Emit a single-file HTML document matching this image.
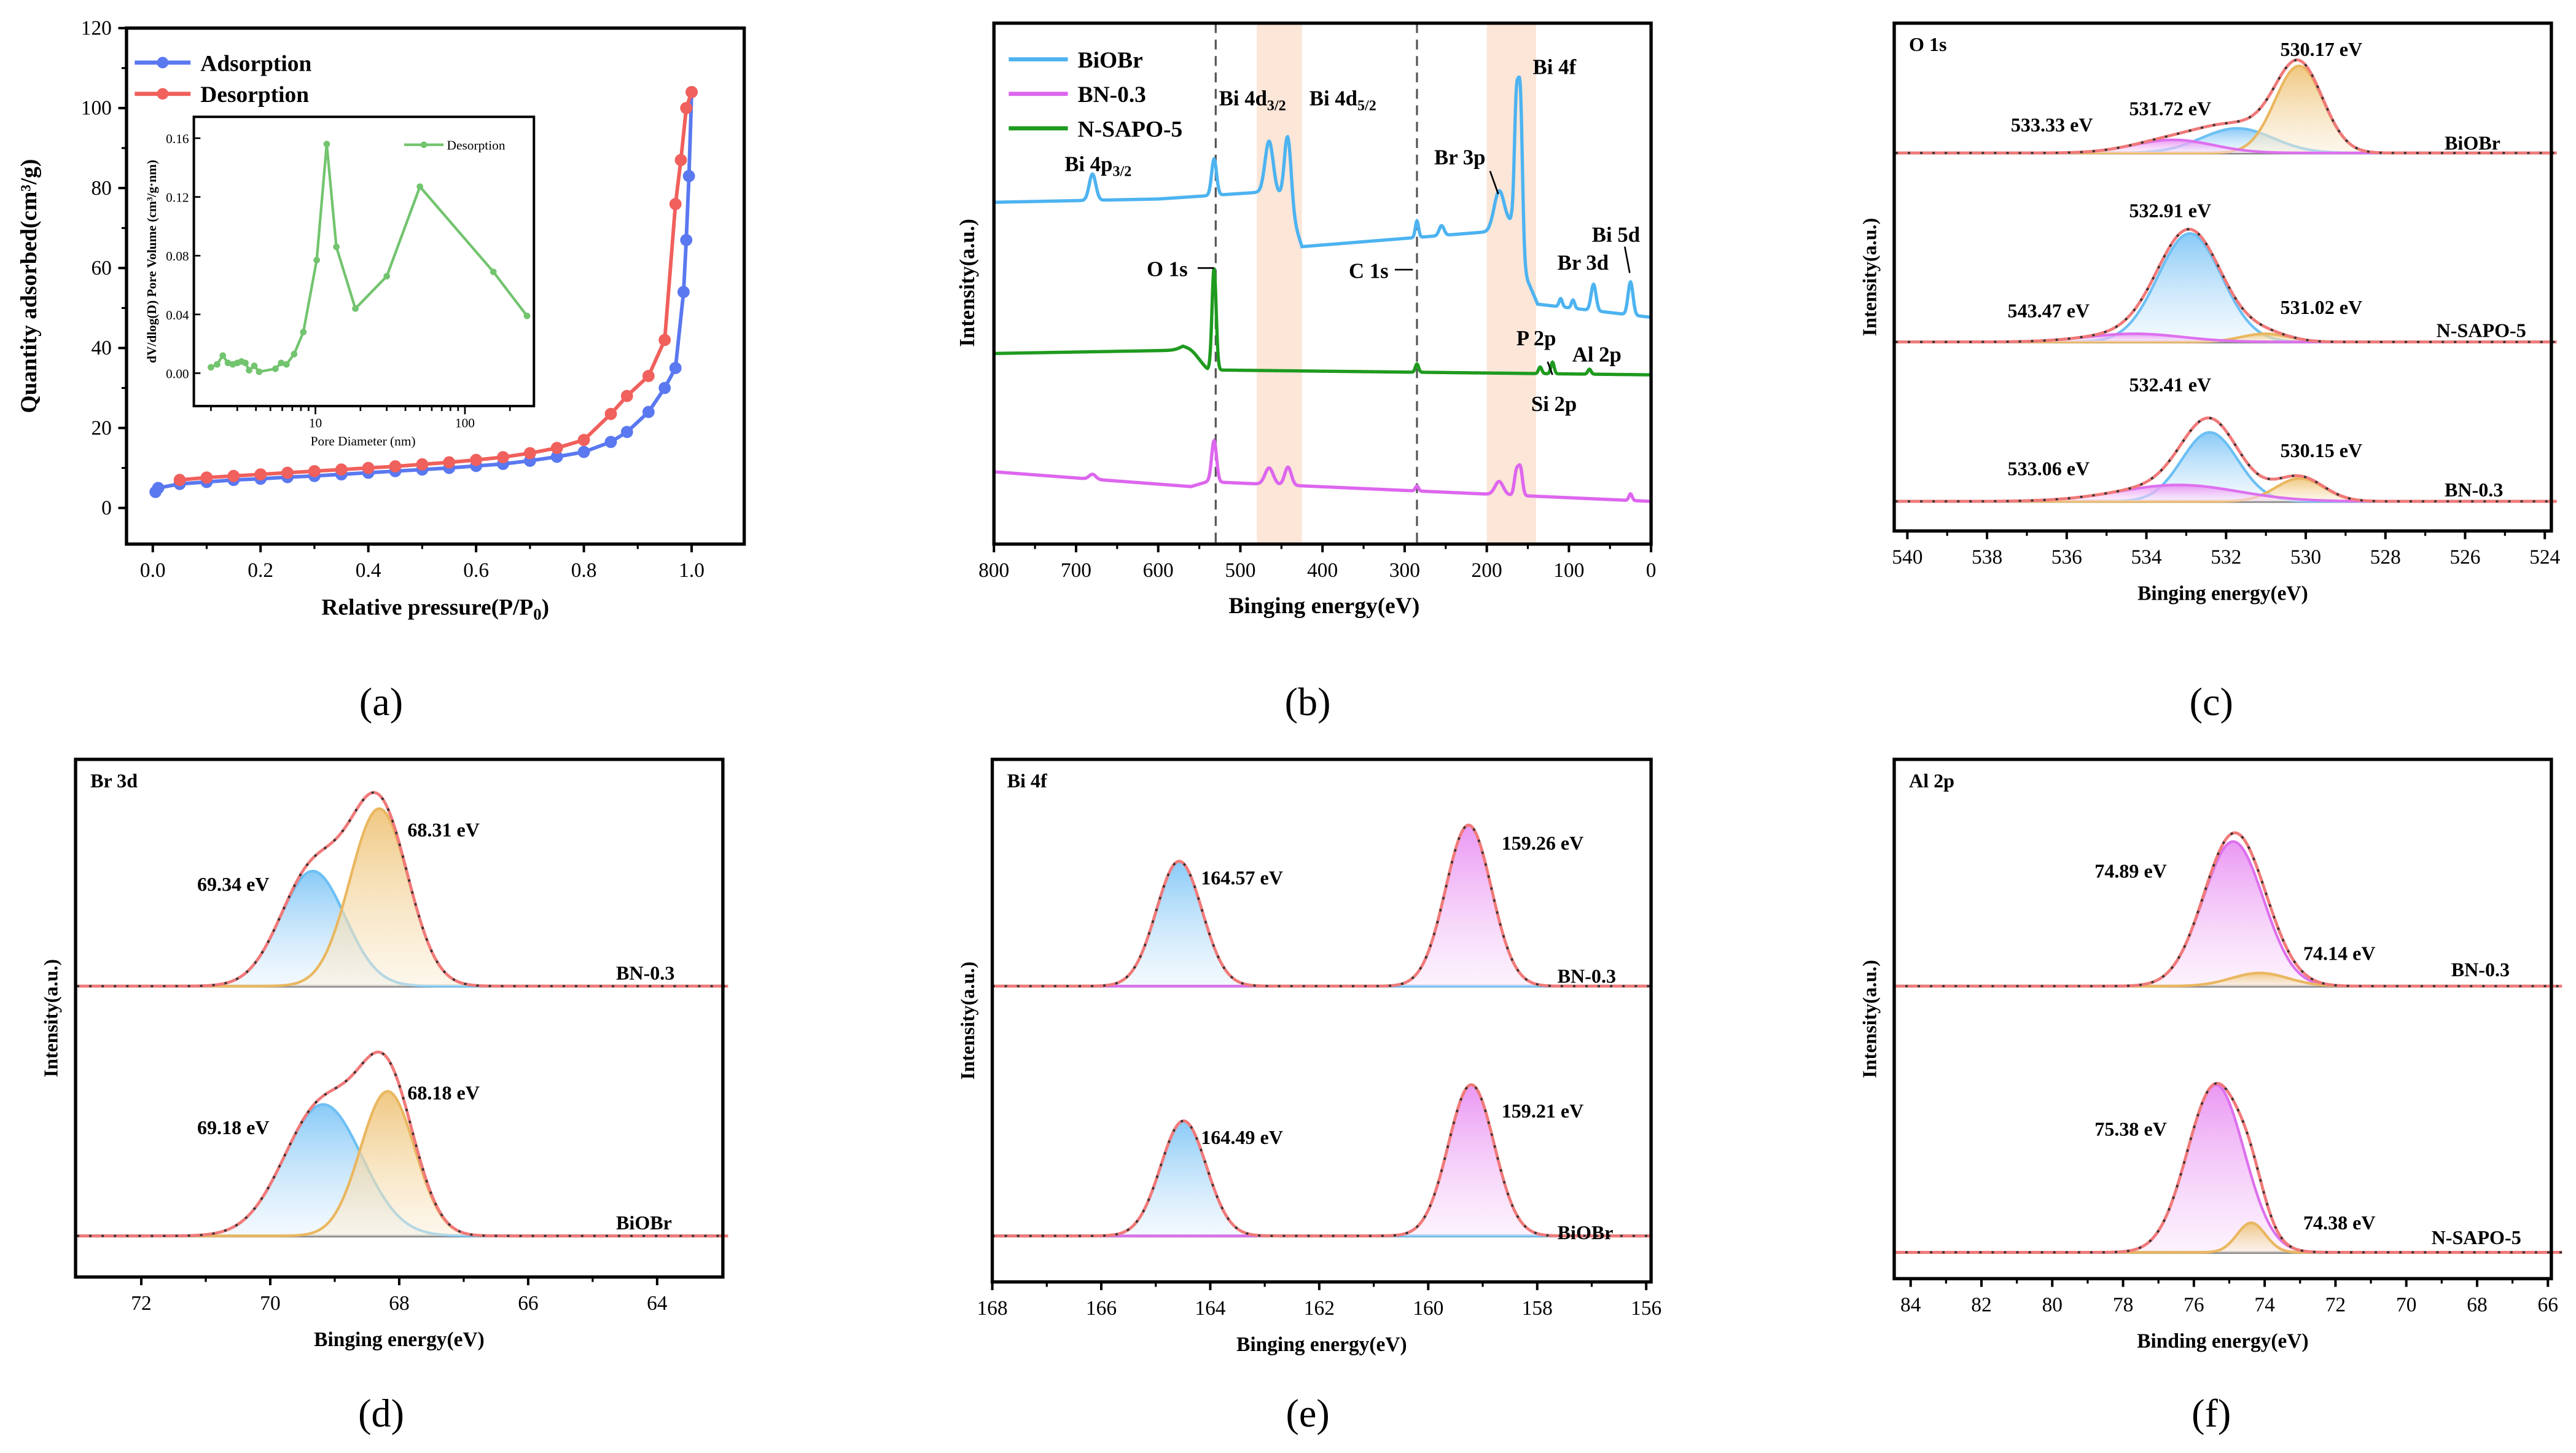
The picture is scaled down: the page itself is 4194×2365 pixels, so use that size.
<!DOCTYPE html>
<html><head><meta charset="utf-8"><style>
html,body{margin:0;padding:0;background:#fff;}
svg{display:block;}
text{font-family:"Liberation Serif",serif;}
</style></head><body>
<svg id="fig" xmlns="http://www.w3.org/2000/svg" width="4194" height="2365" viewBox="0 0 1568 884">
<defs>
<linearGradient id="gBlue" x1="0" y1="0" x2="0" y2="1"><stop offset="0" stop-color="#7cc4f6" stop-opacity="0.9"/><stop offset="1" stop-color="#e8f4fd" stop-opacity="0.5"/></linearGradient>
<linearGradient id="gOr" x1="0" y1="0" x2="0" y2="1"><stop offset="0" stop-color="#eec274" stop-opacity="0.9"/><stop offset="1" stop-color="#fbefd8" stop-opacity="0.5"/></linearGradient>
<linearGradient id="gMag" x1="0" y1="0" x2="0" y2="1"><stop offset="0" stop-color="#e88cf2" stop-opacity="0.9"/><stop offset="1" stop-color="#fae6fc" stop-opacity="0.5"/></linearGradient>
</defs>
</svg>
<script>
// ---------- Panel (a) data ----------
const adsP=[0.005,0.01,0.05,0.1,0.15,0.2,0.25,0.3,0.35,0.4,0.45,0.5,0.55,0.6,0.65,0.7,0.75,0.8,0.85,0.88,0.92,0.95,0.97,0.985,0.99,0.995,1.0];
const adsV=[4,5,6,6.5,7,7.3,7.7,8,8.4,8.8,9.2,9.6,10,10.5,11,11.8,12.8,14,16.5,19,24,30,35,54,67,83,104];
const desP=[0.05,0.1,0.15,0.2,0.25,0.3,0.35,0.4,0.45,0.5,0.55,0.6,0.65,0.7,0.75,0.8,0.85,0.88,0.92,0.95,0.97,0.98,0.99,1.0];
const desV=[7,7.6,8,8.4,8.8,9.2,9.6,10,10.4,10.9,11.4,12,12.7,13.7,15,17,23.5,28,33,42,76,87,100,104];
const poreD=[2.0,2.2,2.4,2.6,2.8,3.0,3.2,3.4,3.6,3.9,4.2,5.4,5.9,6.4,7.2,8.3,10.2,11.9,13.8,18.5,30,50,155,260];
const poreV=[0.004,0.006,0.012,0.007,0.006,0.007,0.008,0.007,0.002,0.005,0.001,0.003,0.007,0.006,0.013,0.028,0.077,0.156,0.086,0.044,0.066,0.127,0.069,0.039];
const aXTicks=[0,0.2,0.4,0.6,0.8,1.0];
const aYTicks=[0,20,40,60,80,100,120];
const inYTicks=[0,0.04,0.08,0.12,0.16];
// ---------- Panel (b) survey data: baseline knots [eV,I] and peaks [center,height,sigma] ----------
const bBiOBrBase=[[800,208],[600,210],[480,214],[445,212],[425,181],[300,186],[200,190],[170,196],[150,160],[138,146],[0,138]];
const bBiOBrPeaks=[[680,16,4],[532,22,3],[465,32,5],[442,40,4],[285,10,2],[255,6,3],[185,22,6],[164,80,2.5],[159,90,2.5],[110,5,2],[95,5,2],[70,16,3],[25,20,3]];
const bNSAPOBase=[[800,116],[570,118],[540,106],[0,103]];
const bNSAPOPeaks=[[560,4,10],[532,62,2.5],[285,5,2],[135,4,2],[120,7,2],[75,3,2]];
const bBNBase=[[800,44],[560,35],[540,38],[0,26]];
const bBNPeaks=[[680,3,4],[532,25,3],[465,10,5],[442,11,4],[285,3,2],[185,8,5],[164,14,2.5],[159,16,2.5],[25,4,2]];
const bXTicks=[800,700,600,500,400,300,200,100,0];
// ---------- Panels (c)-(f): component peaks [center, height, sigma] ----------
const cBiOBr={blue:[531.72,15,0.9],orange:[530.17,53,0.6],mag:[533.33,8,1.0]};
const cNSAPO={blue:[532.91,66,0.8],orange:[531.02,5,0.6],mag:[534.3,5,1.2]};
const cBN={blue:[532.41,42,0.7],orange:[530.15,14,0.6],mag:[533.2,10,1.5]};
const cXTicks=[540,538,536,534,532,530,528,526,524];
const dBN={blue:[69.34,70,0.5],orange:[68.31,108,0.45]};
const dBiOBr={blue:[69.18,80,0.6],orange:[68.18,88,0.42]};
const dXTicks=[72,70,68,66,64];
const eBN={blue:[164.57,76,0.42],mag:[159.26,98,0.42]};
const eBiOBr={blue:[164.49,70,0.42],mag:[159.21,92,0.42]};
const eXTicks=[168,166,164,162,160,158,156];
const fBN={mag:[74.89,88,0.85],orange:[74.14,8,0.8]};
const fNSAPO={mag:[75.38,102,0.8],orange:[74.38,18,0.4]};
const fXTicks=[84,82,80,78,76,74,72,70,68,66];

const NS='http://www.w3.org/2000/svg';
const svg=document.getElementById('fig');
function mk(tag,attrs,parent,txt){const e=document.createElementNS(NS,tag);for(const k in attrs)e.setAttribute(k,attrs[k]);if(txt!==undefined)e.textContent=txt;(parent||svg).appendChild(e);return e;}
function txt(x,y,s,size,parent,anchor,bold){return mk('text',{x:x,y:y,'font-size':size,'font-weight':bold===false?'normal':'bold','text-anchor':anchor||'start'},parent,s);}
function gauss(x,p){return p[1]*Math.exp(-0.5*Math.pow((x-p[0])/p[2],2));}
function pathD(pts){return pts.map((p,i)=>(i?'L':'M')+p[0].toFixed(2)+' '+p[1].toFixed(2)).join('');}
function interpBase(knots,e){for(let i=0;i<knots.length-1;i++){const a=knots[i],b=knots[i+1];if(e<=a[0]&&e>=b[0]){return a[1]+(b[1]-a[1])*(a[0]-e)/(a[0]-b[0]);}}return knots[knots.length-1][1];}
function frame(x0,y0,x1,y1,name){const r=mk('rect',{x:x0,y:y0,width:x1-x0,height:y1-y0,fill:'none',stroke:'#000','stroke-width':2});}
function xTicks(ticks,sx,yb,g,minor){ticks.forEach(t=>{const x=sx(t);mk('line',{x1:x,y1:yb,x2:x,y2:yb+5,stroke:'#000','stroke-width':1.5},g);const l=txt(x,yb+20,String(t),12.5,g,'middle',false);});
 if(minor){for(let i=0;i<ticks.length-1;i++){const x=(sx(ticks[i])+sx(ticks[i+1]))/2;mk('line',{x1:x,y1:yb,x2:x,y2:yb+3,stroke:'#000','stroke-width':1.2},g);}}}
function caption(x,y,s){const t=mk('text',{x:x,y:y,'font-size':24,'text-anchor':'middle'},svg,s);}
function ylabel(x,y,s,g){const t=mk('text',{x:0,y:0,'font-size':13,'font-weight':'bold','text-anchor':'middle',transform:`translate(${x},${y}) rotate(-90)`},g,s);return t;}
function xlabel(x,y,s,g){const t=txt(x,y,s,13,g,'middle');return t;}

// ===== Panel (a) =====
(function(){
 const g=mk('g',{});
 const sx=p=>93+p*328, sy=v=>309-v*(292/120);
 frame(77,17,453,331,'panel-a-frame');
 xTicks(aXTicks,sx,331,g,true);
 g.querySelectorAll('text').forEach(t=>t.textContent=Number(t.textContent).toFixed(1));
 aYTicks.forEach(t=>{const y=sy(t);mk('line',{x1:77,y1:y,x2:72,y2:y,stroke:'#000','stroke-width':1.5},g);const l=txt(68,y+4,String(t),12.5,g,'end',false);});
 for(let i=0;i<aYTicks.length-1;i++){const y=(sy(aYTicks[i])+sy(aYTicks[i+1]))/2;mk('line',{x1:77,y1:y,x2:74,y2:y,stroke:'#000','stroke-width':1.2},g);}
 ylabel(22,174,'Quantity adsorbed(cm³/g)',g).setAttribute('font-size','14');
 const xt=mk('text',{x:265,y:374,'font-size':14,'font-weight':'bold','text-anchor':'middle'},g);
 xt.innerHTML='Relative pressure(P/P<tspan font-size="10" dy="3">0</tspan><tspan dy="-3">)</tspan>';
 const series=[[adsP,adsV,'#5a78f0','adsorption'],[desP,desV,'#f0605c','desorption']];
 series.forEach(([P,V,c,n])=>{
  const l=mk('path',{d:pathD(P.map((p,i)=>[sx(p),sy(V[i])])),fill:'none',stroke:c,'stroke-width':2.2},g);
  
  P.forEach((p,i)=>{const m=mk('circle',{cx:sx(p),cy:sy(V[i]),r:3.3,fill:c,stroke:c,'stroke-width':0.8},g);});
 });
 [['Adsorption','#5a78f0',38],['Desorption','#f0605c',57]].forEach(([s,c,y])=>{
  const lg=mk('g',{},g);
  mk('line',{x1:82,y1:y,x2:116,y2:y,stroke:c,'stroke-width':2.5},lg);mk('circle',{cx:99,cy:y,r:3.5,fill:c},lg);txt(122,y+5,s,14,lg);
 });
 const ig=mk('g',{},g);
 const ix=d=>192+(Math.log10(d)-1)*91, iy=v=>227-v*(143/0.16);
 mk('rect',{x:118,y:71,width:207,height:176,fill:'#fff',stroke:'#000','stroke-width':1.5},ig);
 inYTicks.forEach(t=>{const y=iy(t);mk('line',{x1:118,y1:y,x2:122,y2:y,stroke:'#000','stroke-width':1},ig);txt(115,y+3,t.toFixed(2),8,ig,'end',false);});
 for(let d=2;d<=300;d++){const dec=Math.pow(10,Math.floor(Math.log10(d)));if(d%dec!==0)continue;const x=ix(d);if(x<118||x>325)continue;const big=(d===10||d===100);mk('line',{x1:x,y1:247,x2:x,y2:big?252:250,stroke:'#000','stroke-width':1},ig);if(big)txt(x,260,String(d),8,ig,'middle',false);}
 txt(221,271,'Pore Diameter (nm)',8,ig,'middle',false);
 mk('text',{x:0,y:0,'font-size':8,'font-weight':'bold','text-anchor':'middle',transform:'translate(95,159) rotate(-90)'},ig,'dV/dlog(D) Pore Volume (cm³/g·nm)');
 const pl=mk('path',{d:pathD(poreD.map((d,i)=>[ix(d),iy(poreV[i])])),fill:'none',stroke:'#72c46e','stroke-width':1.6},ig);
 
 poreD.forEach((d,i)=>{const m=mk('circle',{cx:ix(d),cy:iy(poreV[i]),r:2,fill:'#72c46e'},ig);});
 const il=mk('g',{},ig);
 mk('line',{x1:246,y1:88,x2:270,y2:88,stroke:'#72c46e','stroke-width':1.6},il);mk('circle',{cx:258,cy:88,r:2,fill:'#72c46e'},il);txt(272,91,'Desorption',8,il,'start',false);
})();
caption(232,435,'(a)');

// ===== Panel (b) =====
(function(){
 const g=mk('g',{});
 const sx=e=>605+(800-e)*0.5;
 [[480,425],[200,140]].forEach(([a,b])=>{const r=mk('rect',{x:sx(a),y:14,width:sx(b)-sx(a),height:317,fill:'#fbe6d8'},g);});
 [530,285].forEach(e=>{const l=mk('line',{x1:sx(e),y1:14,x2:sx(e),y2:331,stroke:'#555','stroke-width':1.2,'stroke-dasharray':'6 4'},g);});
 const S=[[bBiOBrBase,bBiOBrPeaks,'#4db3f0','biobr-spectrum'],[bNSAPOBase,bNSAPOPeaks,'#1f9a1f','n-sapo-5-spectrum'],[bBNBase,bBNPeaks,'#dd66ee','bn-0.3-spectrum']];
 S.forEach(([base,peaks,c,n])=>{const pts=[];for(let e=800;e>=0;e-=0.5){let I=interpBase(base,e);peaks.forEach(p=>I+=gauss(e,p));pts.push([sx(e),331-I]);}
  const p=mk('path',{d:pathD(pts),fill:'none',stroke:c,'stroke-width':2},g);});
 frame(605,14,1005,331,'panel-b-frame');
 xTicks(bXTicks,sx,331,g,true);
 ylabel(593,172,'Intensity(a.u.)',g);
 xlabel(806,373,'Binging energy(eV)',g).setAttribute('font-size','14');
 [['BiOBr','#4db3f0',36],['BN-0.3','#dd66ee',57],['N-SAPO-5','#1f9a1f',78]].forEach(([s,c,y])=>{const lg=mk('g',{},g);mk('line',{x1:614,y1:y,x2:650,y2:y,stroke:c,'stroke-width':2.5},lg);txt(656,y+5,s,14,lg);});
 const lab=(x,y,h)=>{const t=mk('text',{x:x,y:y,'font-size':13,'font-weight':'bold'},g);t.innerHTML=h;};
 lab(648,104,'Bi 4p<tspan font-size="9" dy="3">3/2</tspan>');
 lab(742,64,'Bi 4d<tspan font-size="9" dy="3">3/2</tspan>');
 lab(797,64,'Bi 4d<tspan font-size="9" dy="3">5/2</tspan>');
 lab(933,45,'Bi 4f');lab(873,100,'Br 3p');lab(948,164,'Br 3d');lab(969,147,'Bi 5d');
 lab(698,168,'O 1s');lab(821,169,'C 1s');lab(923,210,'P 2p');lab(957,220,'Al 2p');lab(932,250,'Si 2p');
 const ar=(x1,y1,x2,y2)=>{const l=mk('line',{x1:x1,y1:y1,x2:x2,y2:y2,stroke:'#000','stroke-width':1},g);};
 ar(729,163,739,163);ar(849,164,860,164);ar(907,104,912,118);ar(989,150,992,166);ar(942,220,945,228);
})();
caption(796,435,'(b)');

// ===== generic XPS fit panel =====
function xpsPanel(opt){
 const g=mk('g',{});
 const sx=e=>opt.px0+(opt.e0-e)*opt.k;
 const fills={blue:['url(#gBlue)','#6cc0f4'],orange:['url(#gOr)','#eab760'],mag:['url(#gMag)','#dd70ee']};
 opt.traces.forEach(tr=>{
  const bl=e=>tr.base+(tr.slope||0)*(e-opt.eMin);
  const es=[];for(let e=opt.eMax;e>=opt.eMin-1e-9;e-=(opt.eMax-opt.eMin)/500)es.push(e);
  mk('line',{x1:opt.x0,y1:tr.base,x2:opt.x1,y2:tr.base,stroke:'#888','stroke-width':1.8},g);
  Object.keys(tr.comps).forEach(k=>{const p=tr.comps[k];const pts=es.map(e=>[sx(e),bl(e)-gauss(e,p)]);
   const a=mk('path',{d:pathD(pts)+`L${sx(opt.eMin)} ${bl(opt.eMin)}L${sx(opt.eMax)} ${bl(opt.eMax)}Z`,fill:fills[k][0],stroke:'none'},g);
   const l=mk('path',{d:pathD(pts),fill:'none',stroke:fills[k][1],'stroke-width':1.6},g);});
  const env=es.map(e=>{let I=0;Object.values(tr.comps).forEach(p=>I+=gauss(e,p));return [sx(e),bl(e)-I];});
  const ep=mk('path',{d:pathD(env),fill:'none',stroke:'#f07a7a','stroke-width':1.8},g);
  const dp=mk('path',{d:pathD(env),fill:'none',stroke:'#333','stroke-width':1.3,'stroke-dasharray':'1.5 6'},g);
  const sl=txt(tr.lx,tr.ly,tr.label,12,g,'start');
  tr.ann.forEach(a=>{const t=txt(a[0],a[1],a[2],12,g,'start');});
 });
 frame(opt.x0,opt.y0,opt.x1,opt.y1,opt.name+'-frame');
 xTicks(opt.ticks,sx,opt.y1,g,true);
 ylabel(opt.x0-11,(opt.y0+opt.y1)/2,'Intensity(a.u.)',g).setAttribute('font-size','12');
 xlabel((opt.x0+opt.x1)/2,opt.y1+42,opt.xl,g).setAttribute('font-size','12.5');
 const tt=txt(opt.x0+9,opt.y0+17,opt.title,12,g);
}

xpsPanel({name:'panel-c-o1s',x0:1153,y0:14,x1:1553,y1:323,e0:540,px0:1161,k:24.25,eMin:523.7,eMax:540.3,ticks:cXTicks,title:'O 1s',xl:'Binging energy(eV)',
 traces:[
  {base:93,comps:cBiOBr,label:'BiOBr',lx:1488,ly:91,ann:[[1388,34,'530.17 eV'],[1296,70,'531.72 eV'],[1224,80,'533.33 eV']]},
  {base:208,comps:cNSAPO,label:'N-SAPO-5',lx:1483,ly:205,ann:[[1296,132,'532.91 eV'],[1222,193,'543.47 eV'],[1388,191,'531.02 eV']]},
  {base:305,slope:0,comps:cBN,label:'BN-0.3',lx:1488,ly:302,ann:[[1296,238,'532.41 eV'],[1222,289,'533.06 eV'],[1388,278,'530.15 eV']]}
 ]});
caption(1346,435,'(c)');

xpsPanel({name:'panel-d-br3d',x0:46,y0:462,x1:440,y1:777,e0:72,px0:86,k:39.25,eMin:62.9,eMax:73,ticks:dXTicks,title:'Br 3d',xl:'Binging energy(eV)',
 traces:[
  {base:600,comps:dBN,label:'BN-0.3',lx:375,ly:596,ann:[[248,509,'68.31 eV'],[120,542,'69.34 eV']]},
  {base:752,comps:dBiOBr,label:'BiOBr',lx:375,ly:748,ann:[[248,669,'68.18 eV'],[120,690,'69.18 eV']]}
 ]});
caption(232,868,'(d)');

xpsPanel({name:'panel-e-bi4f',x0:604,y0:462,x1:1005,y1:780,e0:168,px0:604,k:33.17,eMin:155.9,eMax:168,ticks:eXTicks,title:'Bi 4f',xl:'Binging energy(eV)',
 traces:[
  {base:600,comps:eBN,label:'BN-0.3',lx:948,ly:598,ann:[[731,538,'164.57 eV'],[914,517,'159.26 eV']]},
  {base:752,comps:eBiOBr,label:'BiOBr',lx:948,ly:754,ann:[[731,696,'164.49 eV'],[914,680,'159.21 eV']]}
 ]});
caption(796,868,'(e)');

xpsPanel({name:'panel-f-al2p',x0:1153,y0:462,x1:1553,y1:778,e0:84,px0:1163,k:21.55,eMin:65.6,eMax:84.5,ticks:fXTicks,title:'Al 2p',xl:'Binding energy(eV)',
 traces:[
  {base:600,comps:fBN,label:'BN-0.3',lx:1492,ly:594,ann:[[1275,534,'74.89 eV'],[1402,584,'74.14 eV']]},
  {base:762,comps:fNSAPO,label:'N-SAPO-5',lx:1480,ly:757,ann:[[1275,691,'75.38 eV'],[1402,748,'74.38 eV']]}
 ]});
caption(1346,868,'(f)');
</script>
</body></html>
